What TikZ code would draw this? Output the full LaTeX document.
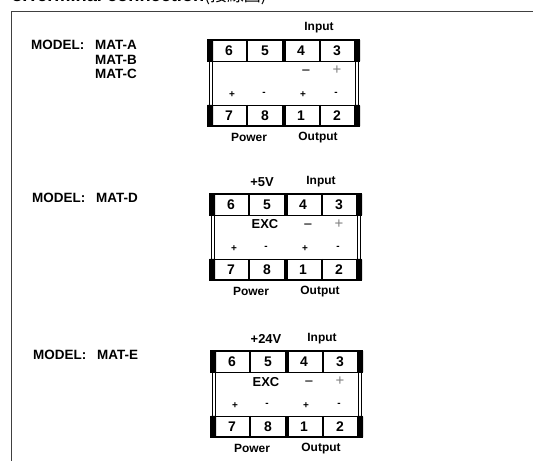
\documentclass[tikz,border=0pt]{standalone}
\usepackage{fontspec}
\setmainfont{Liberation Sans}
\newfontfamily\cjk{Noto Sans CJK TC}
\newlength{\Bxa}
\newlength{\Bya}
\newlength{\Bxb}
\newlength{\Byb}
\newlength{\Bxc}
\newlength{\Byc}
\setlength{\Bxa}{207bp}
\setlength{\Bya}{39.3bp}
\setlength{\Bxb}{209bp}
\setlength{\Byb}{193.3bp}
\setlength{\Bxc}{210bp}
\setlength{\Byc}{350.3bp}
\tikzset{
    txt/.style={font=\fontsize{12}{12}\selectfont\bfseries, inner sep=0pt},
    exctxt/.style={font=\fontsize{13}{13}\selectfont\bfseries, inner sep=0pt},
    modeltxt/.style={font=\fontsize{13.5}{13.5}\selectfont\bfseries, inner sep=0pt, anchor=west},
    num/.style={font=\fontsize{14}{14}\selectfont\bfseries, inner sep=0pt},
    sign/.style={font=\fontsize{10}{10}\selectfont\bfseries, inner sep=0pt},
    thinsign/.style={font=\fontsize{15}{15}\selectfont, inner sep=0pt},
    row/.style={draw=black, line width=1.5bp},
    band/.style={fill=black, rounded corners=0.8bp}
}
% one terminal block: #1 name prefix, #2 and #3 its top left corner
\newcommand{\TermBlock}[3]{%
    \begin{scope}[shift={(#2,-#3)}]
        \draw[line width=1bp] (2,22) -- (2,66) (5,22) -- (5,66);
        \draw[line width=1bp] (148,22) -- (148,66) (151,22) -- (151,66);
        \draw[row] (0.7,0.7) rectangle (152.3,22);
        \draw[row] (0.7,66) rectangle (152.3,86.8);
        \foreach \y/\h in {0/22.5,65.5/22} {
            \fill[band] (0,\y) rectangle ++(6,\h);
            \fill[band] (147,\y) rectangle ++(6,\h);
            \fill (75,\y) rectangle ++(4,\h);
            \draw[line width=1.2bp] (40,\y) -- ++(0,\h);
            \draw[line width=1.2bp] (113,\y) -- ++(0,\h);
        }
        \foreach \n/\x in {6/22,5/58,4/94,3/130}
            \node[num] (#1t\n) at (\x,11) {\n};
        \foreach \n/\x in {7/22,8/58,1/94,2/130}
            \node[num] (#1b\n) at (\x,76.5) {\n};
        \node[sign] (#1sa) at (25,55) {+};
        \node[sign] (#1sb) at (57,55) {-};
        \node[sign] (#1sc) at (96,55) {+};
        \node[sign] (#1sd) at (129,55) {-};
        \node[thinsign] (#1minus) at (99,33) {−};
        \node[thinsign, text=black!50] (#1plus) at (130,31) {+};
        \node[txt] (#1input) at (112,-12) {Input};
        \node[txt] (#1power) at (42,98) {Power};
        \node[txt] (#1output) at (111,98) {Output};
    \end{scope}
}

\begin{document}
\begin{tikzpicture}[x=1bp, y=-1bp]

    \useasboundingbox (0,0) rectangle (533,461);

    \node[anchor=base west, inner sep=0pt, font=\fontsize{18.3}{18.3}\selectfont\bfseries]
        (title) at (12,1.5) {3.Terminal connection{\cjk\mdseries\fontsize{17}{17}\selectfont(接線圖)}};

    \draw[line width=1bp, black!75] (11,461) -- (11,11.5) -- (533,11.5);

    \TermBlock{a}{\Bxa}{\Bya}
    \TermBlock{d}{\Bxb}{\Byb}
    \TermBlock{e}{\Bxc}{\Byc}

    \node[modeltxt] (modela) at (31,45) {MODEL:};
    \node[modeltxt] (mata) at (95,45) {MAT-A};
    \node[modeltxt] (matb) at (95,60) {MAT-B};
    \node[modeltxt] (matc) at (95,74) {MAT-C};

    \node[modeltxt] (modeld) at (32,198) {MODEL:};
    \node[modeltxt] (matd) at (96,198) {MAT-D};
    \node[exctxt] (exva) at (262,182) {+5V};
    \node[exctxt] (excd) at (265,224) {EXC};

    \node[modeltxt] (modele) at (33,355) {MODEL:};
    \node[modeltxt] (mate) at (97,355) {MAT-E};
    \node[exctxt] (exvb) at (266,339) {+24V};
    \node[exctxt] (exce) at (266,382) {EXC};

\end{tikzpicture}
\end{document}
